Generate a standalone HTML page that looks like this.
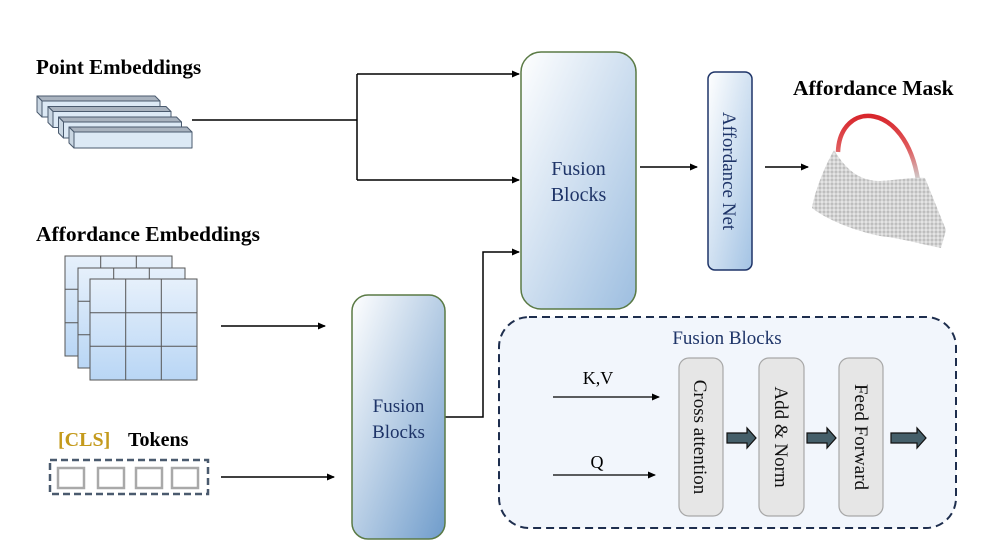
<!DOCTYPE html>
<html><head><meta charset="utf-8"><style>
html,body{margin:0;padding:0;background:#fff;}
svg{display:block;}
text{font-family:"Liberation Serif",serif;}
</style></head><body>
<svg width="997" height="554" viewBox="0 0 997 554" xmlns="http://www.w3.org/2000/svg">
<defs>
<marker id="ah" markerWidth="8" markerHeight="8" refX="7" refY="4" orient="auto" markerUnits="userSpaceOnUse">
<path d="M0,0.5 L8,4 L0,7.5 Z" fill="#000"/></marker>
<linearGradient id="fb" x1="0" y1="0" x2="1" y2="1">
<stop offset="0" stop-color="#ffffff"/><stop offset="1" stop-color="#9dbee0"/></linearGradient>
<linearGradient id="fb2" x1="0" y1="0" x2="1" y2="1">
<stop offset="0" stop-color="#ffffff"/><stop offset="1" stop-color="#6f9ccb"/></linearGradient>
<linearGradient id="an" x1="0" y1="0" x2="1" y2="1">
<stop offset="0" stop-color="#ffffff"/><stop offset="1" stop-color="#a3c3e4"/></linearGradient>
<linearGradient id="gr" x1="0" y1="0" x2="0" y2="1">
<stop offset="0" stop-color="#e6f0fb"/><stop offset="1" stop-color="#b9d6f5"/></linearGradient>
<linearGradient id="hd" x1="0" y1="0" x2="0" y2="1">
<stop offset="0" stop-color="#d8262c"/><stop offset="0.5" stop-color="#e05a5c"/><stop offset="1" stop-color="#cfcfcf"/></linearGradient>
<pattern id="dots" width="4" height="4" patternUnits="userSpaceOnUse">
<rect width="4" height="4" fill="#b8b8b8"/><circle cx="2" cy="2" r="1.7" fill="#e4e4e4"/></pattern>
</defs>

<!-- Labels -->
<text x="36" y="74" font-size="21" font-weight="bold">Point Embeddings</text>
<text x="36" y="241" font-size="21.5" font-weight="bold">Affordance Embeddings</text>
<text x="58" y="446" font-size="20" font-weight="bold" fill="#c49a1c">[CLS]</text>
<text x="128" y="446" font-size="20" font-weight="bold">Tokens</text>
<text x="793" y="95" font-size="21.5" font-weight="bold">Affordance Mask</text>

<!-- Point embedding bars -->
<g stroke="#4a5a6e" stroke-width="1" stroke-linejoin="round">
<g transform="translate(37,96)"><polygon points="0,0 118,0 123,5 5,5" fill="#a9b3bf"/><polygon points="0,0 5,5 5,21 0,16" fill="#c9d6e2"/><rect x="5" y="5" width="118" height="16" fill="#dce9f5"/></g>
<g transform="translate(48,106.5)"><polygon points="0,0 118,0 123,5 5,5" fill="#a9b3bf"/><polygon points="0,0 5,5 5,21 0,16" fill="#c9d6e2"/><rect x="5" y="5" width="118" height="16" fill="#dce9f5"/></g>
<g transform="translate(58.5,117)"><polygon points="0,0 118,0 123,5 5,5" fill="#a9b3bf"/><polygon points="0,0 5,5 5,21 0,16" fill="#c9d6e2"/><rect x="5" y="5" width="118" height="16" fill="#dce9f5"/></g>
<g transform="translate(69,127)"><polygon points="0,0 118,0 123,5 5,5" fill="#a9b3bf"/><polygon points="0,0 5,5 5,21 0,16" fill="#c9d6e2"/><rect x="5" y="5" width="118" height="16" fill="#dce9f5"/></g>
</g>

<!-- Grids -->
<g stroke="#555" stroke-width="1" fill="url(#gr)">
<g transform="translate(65,256)"><rect width="107" height="100"/><path d="M35.7,0V100M71.3,0V100M0,33.3H107M0,66.7H107" fill="none"/></g>
<g transform="translate(78,268)"><rect width="107" height="100"/><path d="M35.7,0V100M71.3,0V100M0,33.3H107M0,66.7H107" fill="none"/></g>
<g transform="translate(90,279)"><rect width="107" height="101"/><path d="M35.7,0V101M71.3,0V101M0,33.7H107M0,67.3H107" fill="none"/></g>
</g>

<!-- CLS tokens -->
<rect x="50" y="460" width="158" height="34" fill="none" stroke="#4a5a6e" stroke-width="2.5" stroke-dasharray="7,4"/>
<g fill="none" stroke="#a9a9a9" stroke-width="2.5">
<rect x="58" y="468" width="26" height="20"/><rect x="98" y="468" width="26" height="20"/>
<rect x="136" y="468" width="26" height="20"/><rect x="172" y="468" width="26" height="20"/>
</g>

<!-- Connectors -->
<g stroke="#000" stroke-width="1.5" fill="none">
<path d="M192,120H357"/>
<path d="M357,74V180"/>
<path d="M357,74H519" marker-end="url(#ah)"/>
<path d="M357,180H519" marker-end="url(#ah)"/>
<path d="M221,326H325" marker-end="url(#ah)"/>
<path d="M221,477H334" marker-end="url(#ah)"/>
<path d="M445,417H483V252H519" marker-end="url(#ah)"/>
<path d="M640,167H697" marker-end="url(#ah)"/>
<path d="M765,167H808" marker-end="url(#ah)"/>
</g>

<!-- Fusion blocks (top) -->
<rect x="521" y="52" width="115" height="257" rx="20" fill="url(#fb)" stroke="#5a7a45" stroke-width="1.5"/>
<text x="578.5" y="175" font-size="20" fill="#1e3468" text-anchor="middle">Fusion</text>
<text x="578.5" y="201" font-size="20" fill="#1e3468" text-anchor="middle">Blocks</text>

<!-- Fusion blocks (middle) -->
<rect x="352" y="295" width="93" height="244" rx="16" fill="url(#fb2)" stroke="#5a7a45" stroke-width="1.5"/>
<text x="398.5" y="412" font-size="19" fill="#1e3468" text-anchor="middle">Fusion</text>
<text x="398.5" y="438" font-size="19" fill="#1e3468" text-anchor="middle">Blocks</text>

<!-- Affordance Net -->
<rect x="708" y="72" width="44" height="198" rx="7" fill="url(#an)" stroke="#1e3468" stroke-width="1.5"/>
<text transform="translate(723,171) rotate(90)" font-size="19" fill="#1e3468" text-anchor="middle">Affordance Net</text>

<!-- Bag -->
<path d="M838,152 C840,100 905,100 918,180" fill="none" stroke="url(#hd)" stroke-width="4.5"/>
<path d="M834,150 C845,168 858,181 880,181 C900,180 912,177 925,178 L946,230 L941,248 C920,244 900,238 880,236 C860,232 830,222 812,208 C815,190 825,166 834,150 Z" fill="url(#dots)"/>

<!-- Fusion blocks detail -->
<rect x="499" y="317" width="457" height="211" rx="30" fill="#f2f6fc" stroke="#1e2e4e" stroke-width="2" stroke-dasharray="8,5"/>
<text x="727" y="344" font-size="19" fill="#1e3468" text-anchor="middle">Fusion Blocks</text>
<text x="598" y="384" font-size="18" text-anchor="middle">K,V</text>
<text x="597" y="468" font-size="18" text-anchor="middle">Q</text>
<g stroke="#000" stroke-width="1.2">
<path d="M553,397H659" marker-end="url(#ah)"/>
<path d="M553,475H655" marker-end="url(#ah)"/>
</g>
<g fill="#e6e6e6" stroke="#a8a8a8" stroke-width="1.2">
<rect x="679" y="358" width="44" height="158" rx="10"/>
<rect x="759" y="358" width="45" height="158" rx="10"/>
<rect x="839" y="358" width="44" height="158" rx="10"/>
</g>
<g font-size="19" fill="#111" text-anchor="middle">
<text transform="translate(694,437) rotate(90)">Cross attention</text>
<text transform="translate(775,437) rotate(90)">Add &amp; Norm</text>
<text transform="translate(855,437) rotate(90)">Feed Forward</text>
</g>
<g fill="#455f6a" stroke="#111" stroke-width="1.2">
<polygon points="727,433 747,433 747,428 756,438 747,448 747,443 727,443"/>
<polygon points="807,433 827,433 827,428 836,438 827,448 827,443 807,443"/>
<polygon points="891,433 917,433 917,428 926,438 917,448 917,443 891,443"/>
</g>
</svg>
</body></html>
